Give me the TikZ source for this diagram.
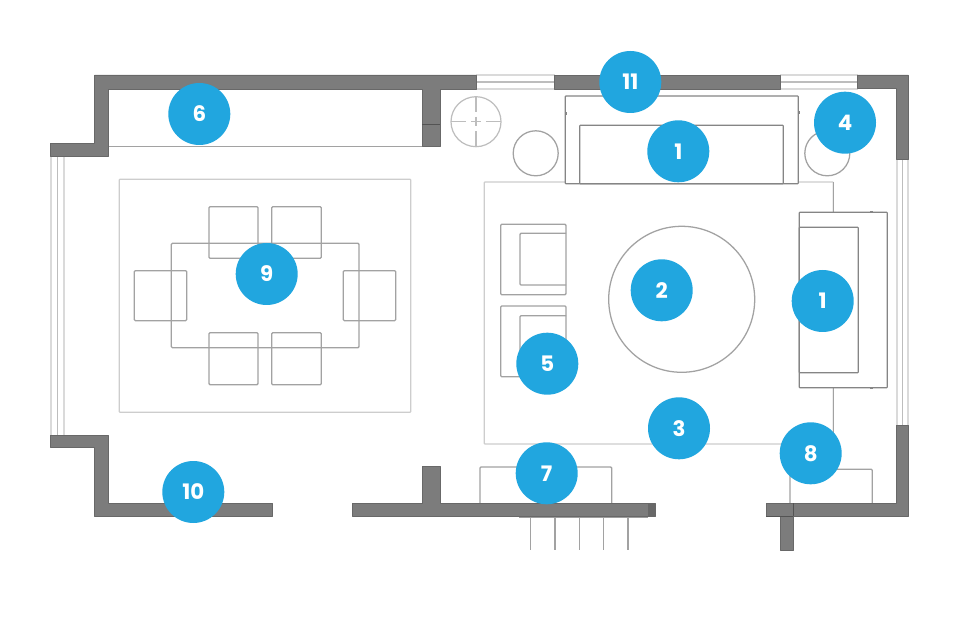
\documentclass[tikz,border=0pt]{standalone}
\usepackage{fontspec}
\setmainfont{Poppins}
\definecolor{wallc}{HTML}{7C7C7C}
\definecolor{walle}{HTML}{686868}
\definecolor{badge}{HTML}{21A6DF}
\definecolor{glass}{HTML}{DADADA}
\definecolor{glassd}{HTML}{BDBDBD}
\definecolor{rugc}{HTML}{CDCDCD}
\definecolor{plantc}{HTML}{BDBDBD}
\definecolor{furn}{HTML}{A2A2A2}
\definecolor{furnd}{HTML}{858585}
\tikzset{
  x=0.75pt,y=-0.75pt,
  wall/.style={fill=wallc,draw=walle,line width=0.5pt,line join=round},
  wallseam/.style={draw=walle!80!black,line width=0.7pt},
  glassline/.style={draw=glass,line width=0.9pt},
  glassmid/.style={draw=glassd,line width=0.9pt},
  rug/.style={draw=rugc,line width=0.9pt,rounded corners=0.5pt},
  furniture/.style={draw=furn,line width=0.95pt,rounded corners=0.8pt},
  sofa/.style={draw=furnd,line width=0.85pt,fill=white,rounded corners=0.5pt},
  round table/.style={draw=furn,line width=0.95pt,fill=white},
  badgenode/.style={circle,fill=badge,text=white,minimum size=46.5pt,inner sep=0pt,
    font=\fontsize{16}{16}\selectfont\bfseries}
}
\begin{document}
\begin{tikzpicture}
\useasboundingbox (0,0) rectangle (960,641);
\fill[white] (0,0) rectangle (960,641);

% windows
\foreach \y in {75,89}{
  \draw[glassline] (476,\y) -- (555,\y);
  \draw[glassline] (780,\y) -- (858,\y);
}
\draw[glassmid] (476,82) -- (555,82);
\draw[glassmid] (780,82) -- (858,82);
\foreach \x in {51,64}{\draw[glassline] (\x,157) -- (\x,436);}
\draw[glassmid] (57.5,157) -- (57.5,436);
\foreach \x in {897,908}{\draw[glassline] (\x,159) -- (\x,426);}
\draw[glassmid] (902.5,159) -- (902.5,426);

% living rug
\draw[rug] (484.3,182) rectangle (833.3,444);
\draw[furn,line width=0.85pt] (833.3,182) -- (833.3,212);
\draw[furn,line width=0.85pt] (833.3,388) -- (833.3,444);

% dining
\draw[rug] (119.3,179.3) rectangle (410.7,412.3);
\draw[furniture] (171.3,243.3) rectangle (359,347.7);
\draw[furniture] (209,206.7) rectangle (258,258.3);
\draw[furniture] (271.7,206.7) rectangle (321.3,258.3);
\draw[furniture] (209,332.7) rectangle (258,384.7);
\draw[furniture] (271.7,332.7) rectangle (321.3,384.7);
\draw[furniture] (134.3,270.7) rectangle (186.7,320.7);
\draw[furniture] (343.3,270.7) rectangle (395.7,320.7);

% bench, console, cabinet
\draw[furn,line width=0.95pt] (108,146.7) -- (422,146.7);
\draw[furniture] (480,503) -- (480,467) -- (611.7,467) -- (611.7,503);
\draw[furniture] (790,503) -- (790,469.3) -- (872.3,469.3) -- (872.3,503);

% steps
\foreach \x in {530.3,555,579.3,603.3,628}{\draw[furn,line width=0.95pt] (\x,518) -- (\x,550);}

% sofas
\draw[sofa] (565.3,96) rectangle (798.3,183.7);
\draw[sofa] (579.7,125.3) rectangle (783.3,183.7);
\draw[sofa] (799.3,212.3) rectangle (887.3,387.7);
\draw[sofa] (799.3,227.3) rectangle (858.3,372.7);
\fill[furnd] (564.5,112) rectangle (566.5,115);
\fill[furnd] (797.5,111) rectangle (799.5,114);
\fill[furnd] (870,211.3) rectangle (873,213.3);
\fill[furnd] (870,386.7) rectangle (873,388.7);

% armchairs
\draw[furniture] (566,224.3) -- (500.7,224.3) -- (500.7,294.7) -- (566,294.7) -- cycle;
\draw[furniture] (566,233.3) -- (520,233.3) -- (520,285) -- (566,285);
\draw[furniture] (566,306) -- (500.7,306) -- (500.7,376.7) -- (566,376.7) -- cycle;
\draw[furniture] (566,315.7) -- (520,315.7) -- (520,367) -- (566,367);

% round tables
\draw[round table] (681.7,299.3) circle[radius=73];
\draw[round table] (535.7,153.3) circle[radius=22.5];
\draw[round table] (827.3,153.3) circle[radius=22.5];

% plant
\draw[draw=plantc,line width=0.9pt] (476,121.7) circle[radius=25];
\draw[draw=plantc,line width=0.8pt] (476,96.7) -- (476,112);
\draw[draw=plantc,line width=0.8pt] (476,131.5) -- (476,146.7);
\draw[draw=plantc,line width=0.8pt] (451,121.7) -- (466,121.7);
\draw[draw=plantc,line width=0.8pt] (486,121.7) -- (501,121.7);
\draw[draw=plantc,line width=0.8pt] (471,121.7) -- (481,121.7);
\draw[draw=plantc,line width=0.8pt] (476,117) -- (476,126.5);

% walls
\draw[wall] (94.5,75) -- (476.7,75) -- (476.7,89) -- (440,89) -- (440,146.7) -- (422,146.7) -- (422,89) -- (108,89) -- (108,156.7) -- (50.7,156.7) -- (50.7,143.3) -- (94.5,143.3) -- cycle;
\draw[wallseam] (422,124) -- (440,124);
\draw[wall] (554,75) rectangle (780,89);
\draw[wall] (857.3,75) -- (908.3,75) -- (908.3,159) -- (896.7,159) -- (896.7,88.5) -- (857.3,88.5) -- cycle;
\draw[wall] (50.7,435) -- (108,435) -- (108,503.3) -- (272.7,503.3) -- (272.7,516) -- (94.5,516) -- (94.5,447.7) -- (50.7,447.7) -- cycle;
\fill[wallc!75!white] (519,516) rectangle (648.3,518);
\draw[wall] (352,516) -- (352,503.3) -- (422,503.3) -- (422,466.7) -- (440,466.7) -- (440,503.3) -- (655,503.3) -- (655,516) -- cycle;
\fill[walle] (648.3,503.8) rectangle (655,515.5);
\draw[wall] (780.7,516) rectangle (793.3,550);
\draw[wall] (766,503.3) -- (896.7,503.3) -- (896.7,425) -- (908.3,425) -- (908.3,516) -- (766,516) -- cycle;
\draw[wallseam] (766,516.5) -- (793.3,516.5);
\draw[wallseam] (793.3,503.3) -- (793.3,516);

% badges
\node[badgenode] (b6) at (199.3,114) {6};
\node[badgenode] (b11) at (630.3,82) {11};
\node[badgenode] (b1a) at (678.3,151.3) {1};
\node[badgenode] (b4) at (845,122.7) {4};
\node[badgenode] (b2) at (661.7,290.3) {2};
\node[badgenode] (b1b) at (822.7,301) {1};
\node[badgenode] (b5) at (547.3,363.7) {5};
\node[badgenode] (b3) at (679,428.3) {3};
\node[badgenode] (b7) at (546.7,473.3) {7};
\node[badgenode] (b8) at (810.7,453.3) {8};
\node[badgenode] (b10) at (193.3,492) {10};
\node[badgenode] (b9) at (266.7,274) {9};
\end{tikzpicture}
\end{document}
